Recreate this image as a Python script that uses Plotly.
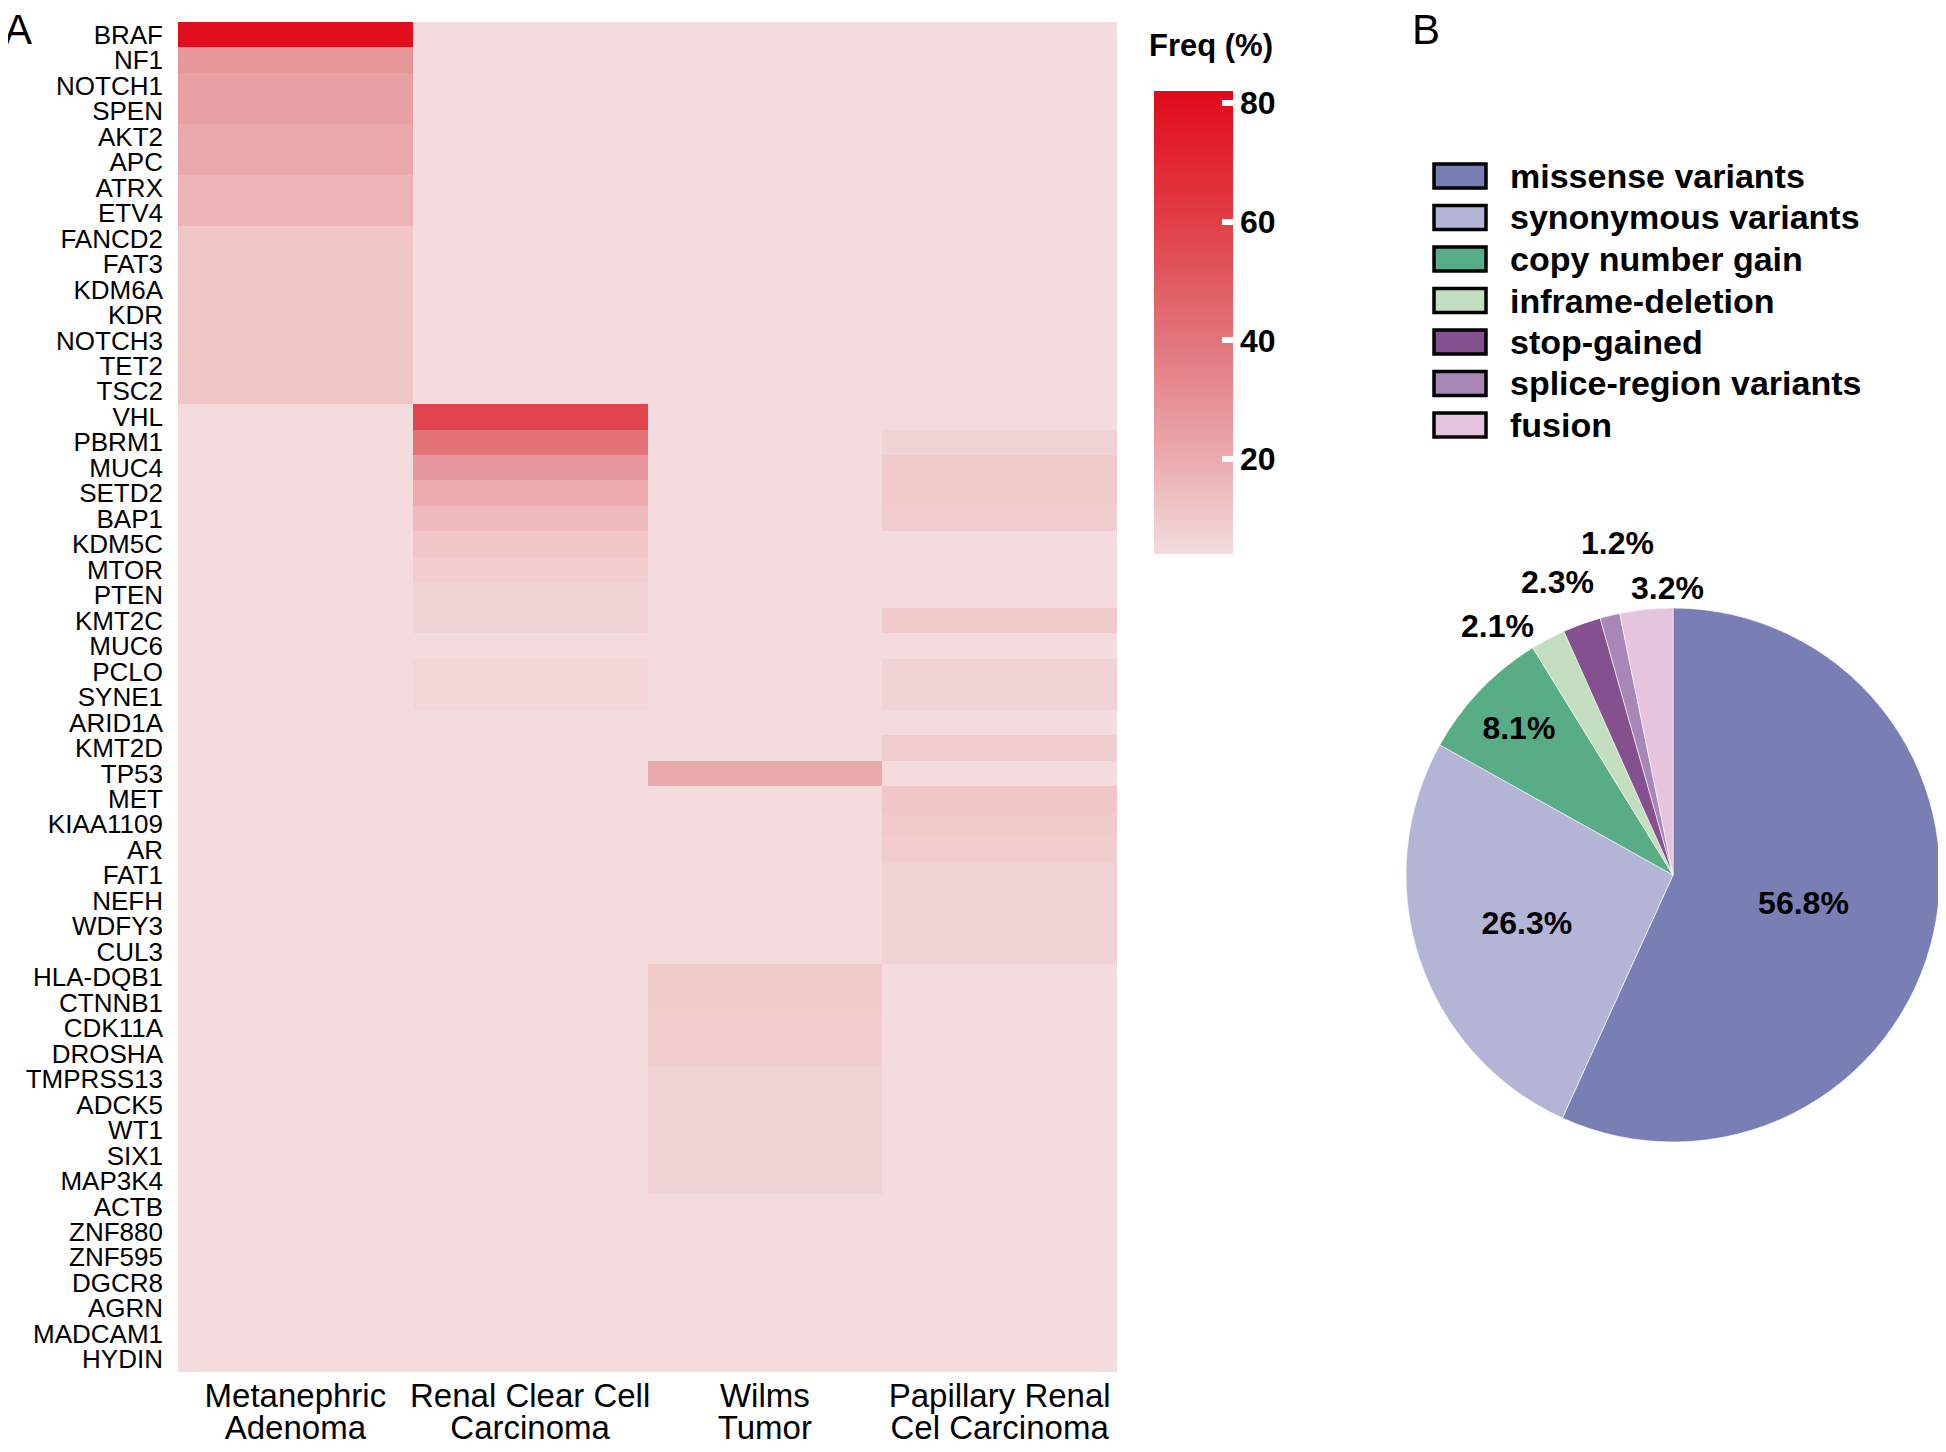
import plotly.graph_objects as go

W, H = 1946, 1452
OFF = 8  # the page body margin shifts the figure by this many pixels

genes = ["BRAF", "NF1", "NOTCH1", "SPEN", "AKT2", "APC", "ATRX", "ETV4", "FANCD2", "FAT3",
         "KDM6A", "KDR", "NOTCH3", "TET2", "TSC2", "VHL", "PBRM1", "MUC4", "SETD2", "BAP1",
         "KDM5C", "MTOR", "PTEN", "KMT2C", "MUC6", "PCLO", "SYNE1", "ARID1A", "KMT2D", "TP53",
         "MET", "KIAA1109", "AR", "FAT1", "NEFH", "WDFY3", "CUL3", "HLA-DQB1", "CTNNB1", "CDK11A",
         "DROSHA", "TMPRSS13", "ADCK5", "WT1", "SIX1", "MAP3K4", "ACTB", "ZNF880", "ZNF595", "DGCR8",
         "AGRN", "MADCAM1", "HYDIN"]

tumor_types = ["Metanephric Adenoma", "Renal Clear Cell Carcinoma", "Wilms Tumor",
               "Papillary Renal Cel Carcinoma"]
tumor_label_line1 = ["Metanephric", "Renal Clear Cell", "Wilms", "Papillary Renal"]
tumor_label_line2 = ["Adenoma", "Carcinoma", "Tumor", "Cel Carcinoma"]

# mutation frequency (%) per gene, one list per tumour type (same order as genes)
freq_metanephric = [80, 28, 24, 24, 21, 21, 17, 17, 11, 11, 11, 11, 11, 11, 11,
                    0, 0, 0, 0, 0, 0, 0, 0, 0, 0, 0, 0, 0, 0, 0,
                    0, 0, 0, 0, 0, 0, 0, 0, 0, 0, 0, 0, 0, 0, 0,
                    0, 0, 0, 0, 0, 0, 0, 0]
freq_ccrcc = [0, 0, 0, 0, 0, 0, 0, 0, 0, 0, 0, 0, 0, 0, 0,
              58, 41, 27, 20, 15, 11, 9, 7, 7, 0, 6, 6, 0, 0, 0,
              0, 0, 0, 0, 0, 0, 0, 0, 0, 0, 0, 0, 0, 0, 0,
              0, 0, 0, 0, 0, 0, 0, 0]
freq_wilms = [0, 0, 0, 0, 0, 0, 0, 0, 0, 0, 0, 0, 0, 0, 0,
              0, 0, 0, 0, 0, 0, 0, 0, 0, 0, 0, 0, 0, 0, 21,
              0, 0, 0, 0, 0, 0, 0, 10, 10, 9, 9, 7, 7, 7, 7,
              7, 0, 0, 0, 0, 0, 0, 0]
freq_prcc = [0, 0, 0, 0, 0, 0, 0, 0, 0, 0, 0, 0, 0, 0, 0,
             0, 7, 10, 10, 9, 0, 0, 0, 10, 0, 7, 7, 0, 9, 0,
             11, 10, 9, 7, 7, 7, 7, 0, 0, 0, 0, 0, 0, 0, 0,
             0, 0, 0, 0, 0, 0, 0, 0]

freq_min, freq_max = 4, 82
freq_ticks = [20, 40, 60, 80]

variant_types = ["missense variants", "synonymous variants", "copy number gain",
                 "inframe-deletion", "stop-gained", "splice-region variants", "fusion"]
variant_pct = [56.8, 26.3, 8.1, 2.1, 2.3, 1.2, 3.2]
variant_colors = ["#797eb4", "#b4b4d7", "#58ac86", "#c4dfbf", "#84508e", "#a986b8", "#e6c4dd"]

FONT = "Liberation Sans"

z = [[a, b, c, d] for a, b, c, d in zip(freq_metanephric, freq_ccrcc, freq_wilms, freq_prcc)]

colorscale = [[0.0, "rgb(244,220,222)"], [0.2, "rgb(235,172,176)"], [0.46, "rgb(225,118,124)"],
              [0.72, "rgb(225,62,70)"], [1.0, "rgb(224,10,26)"]]


def px(x):
    return (x - OFF) / W


def py(y):
    return 1 - (y - OFF) / H


hm_left, hm_right, hm_top, hm_bottom = 178, 1117, 22, 1372
cb_left, cb_width, cb_top, cb_bottom = 1154, 79, 91, 554

fig = go.Figure()
fig.add_trace(go.Heatmap(
    z=z, x=tumor_types, y=genes, zmin=freq_min, zmax=freq_max,
    colorscale=colorscale, xgap=0, ygap=0, hoverongaps=False,
    colorbar=dict(
        x=px(cb_left), xanchor="left", xpad=0, ypad=0,
        y=py((cb_top + cb_bottom) / 2), yanchor="middle",
        thickness=cb_width, thicknessmode="pixels",
        len=cb_bottom - cb_top, lenmode="pixels",
        outlinewidth=0,
        tickvals=freq_ticks, ticks="inside", ticklen=11, tickwidth=6, tickcolor="white",
        tickfont=dict(family=FONT, size=32, color="black", weight="bold"),
    ),
))

# axis carrying the second line of the tumour-type labels
fig.add_trace(go.Scatter(x=[0, 3], y=[0, 0], xaxis="x2", yaxis="y2", mode="markers",
                         marker=dict(opacity=0), showlegend=False, hoverinfo="skip"))

n_outside = 4
fig.add_trace(go.Pie(
    labels=variant_types, values=variant_pct, sort=False, direction="clockwise", rotation=0,
    marker=dict(colors=variant_colors, line=dict(color="rgba(255,255,255,0.6)", width=1)),
    texttemplate="%{value}%", textinfo="text",
    textposition=["inside"] * (len(variant_pct) - n_outside) + ["none"] * n_outside,
    insidetextorientation="horizontal",
    textfont=dict(family=FONT, size=32, color="black", weight="bold"),
    showlegend=False, hoverinfo="label+percent",
    domain=dict(x=[px(1406), px(1940)], y=[py(1143), py(607)]),
))

shapes = []
annotations = []

# left-edge white notches of colorbar
for v in freq_ticks:
    yy = cb_bottom - (v - freq_min) / (freq_max - freq_min) * (cb_bottom - cb_top)
    shapes.append(dict(type="line", xref="paper", yref="paper",
                       x0=px(cb_left - 1), x1=px(cb_left + 11), y0=py(yy), y1=py(yy),
                       line=dict(color="white", width=6)))

annotations.append(dict(text="Freq (%)", xref="paper", yref="paper", x=px(1147), y=py(45),
                        xanchor="left", yanchor="middle", showarrow=False,
                        font=dict(family=FONT, size=31, color="black", weight="bold")))

# legend for pie
leg_y0, leg_dy = 176, 41.5
for i, (name, col) in enumerate(zip(variant_types, variant_colors)):
    yc = leg_y0 + i * leg_dy
    shapes.append(dict(type="rect", xref="paper", yref="paper",
                       x0=px(1434), x1=px(1486), y0=py(yc - 12), y1=py(yc + 12),
                       fillcolor=col, line=dict(color="black", width=3.5)))
    annotations.append(dict(text=name, xref="paper", yref="paper", x=px(1508), y=py(yc),
                            xanchor="left", yanchor="middle", showarrow=False,
                            font=dict(family=FONT, size=34, color="black", weight="bold")))

# labels of the thin pie slices, placed above the pie
outside_label_pos = [(1497, 626), (1557, 582), (1617, 543), (1667, 588)]
for v, (lx, ly) in zip(variant_pct[-n_outside:], outside_label_pos):
    annotations.append(dict(text=f"{v}%", xref="paper", yref="paper", x=px(lx), y=py(ly),
                            xanchor="center", yanchor="middle", showarrow=False,
                            font=dict(family=FONT, size=32, color="black", weight="bold")))

annotations.append(dict(text="A", xref="paper", yref="paper", x=px(2), y=py(30),
                        xanchor="left", yanchor="middle", showarrow=False,
                        font=dict(family=FONT, size=42, color="black")))
annotations.append(dict(text="B", xref="paper", yref="paper", x=px(1410), y=py(30),
                        xanchor="left", yanchor="middle", showarrow=False,
                        font=dict(family=FONT, size=42, color="black")))

fig.update_layout(
    template="none",
    width=W, height=H, margin=dict(l=0, r=0, t=0, b=0, autoexpand=False),
    paper_bgcolor="white", plot_bgcolor="rgba(0,0,0,0)",
    xaxis=dict(domain=[px(hm_left), px(hm_right)], tickmode="array", tickvals=tumor_types,
               ticktext=tumor_label_line1, showgrid=False, zeroline=False, showline=False,
               ticks="", ticklabelstandoff=1, automargin=False,
               tickfont=dict(family=FONT, size=33, color="black")),
    yaxis=dict(domain=[py(hm_bottom), py(hm_top)], autorange="reversed", showgrid=False,
               zeroline=False, showline=False, ticks="", ticklabelstandoff=14, automargin=False,
               tickmode="array", tickvals=genes, ticktext=genes,
               tickfont=dict(family=FONT, size=26, color="black")),
    xaxis2=dict(domain=[px(hm_left), px(hm_right)], anchor="y2", range=[-0.5, 3.5],
                tickmode="array", tickvals=list(range(len(tumor_label_line2))),
                ticktext=tumor_label_line2, showgrid=False, zeroline=False, showline=False,
                ticks="", ticklabelstandoff=33, automargin=False,
                tickfont=dict(family=FONT, size=33, color="black")),
    yaxis2=dict(domain=[py(hm_bottom), py(hm_top)], range=[1, 2], visible=False,
                showgrid=False, zeroline=False, automargin=False),
    shapes=shapes, annotations=annotations,
)

fig.write_html("out.html")
